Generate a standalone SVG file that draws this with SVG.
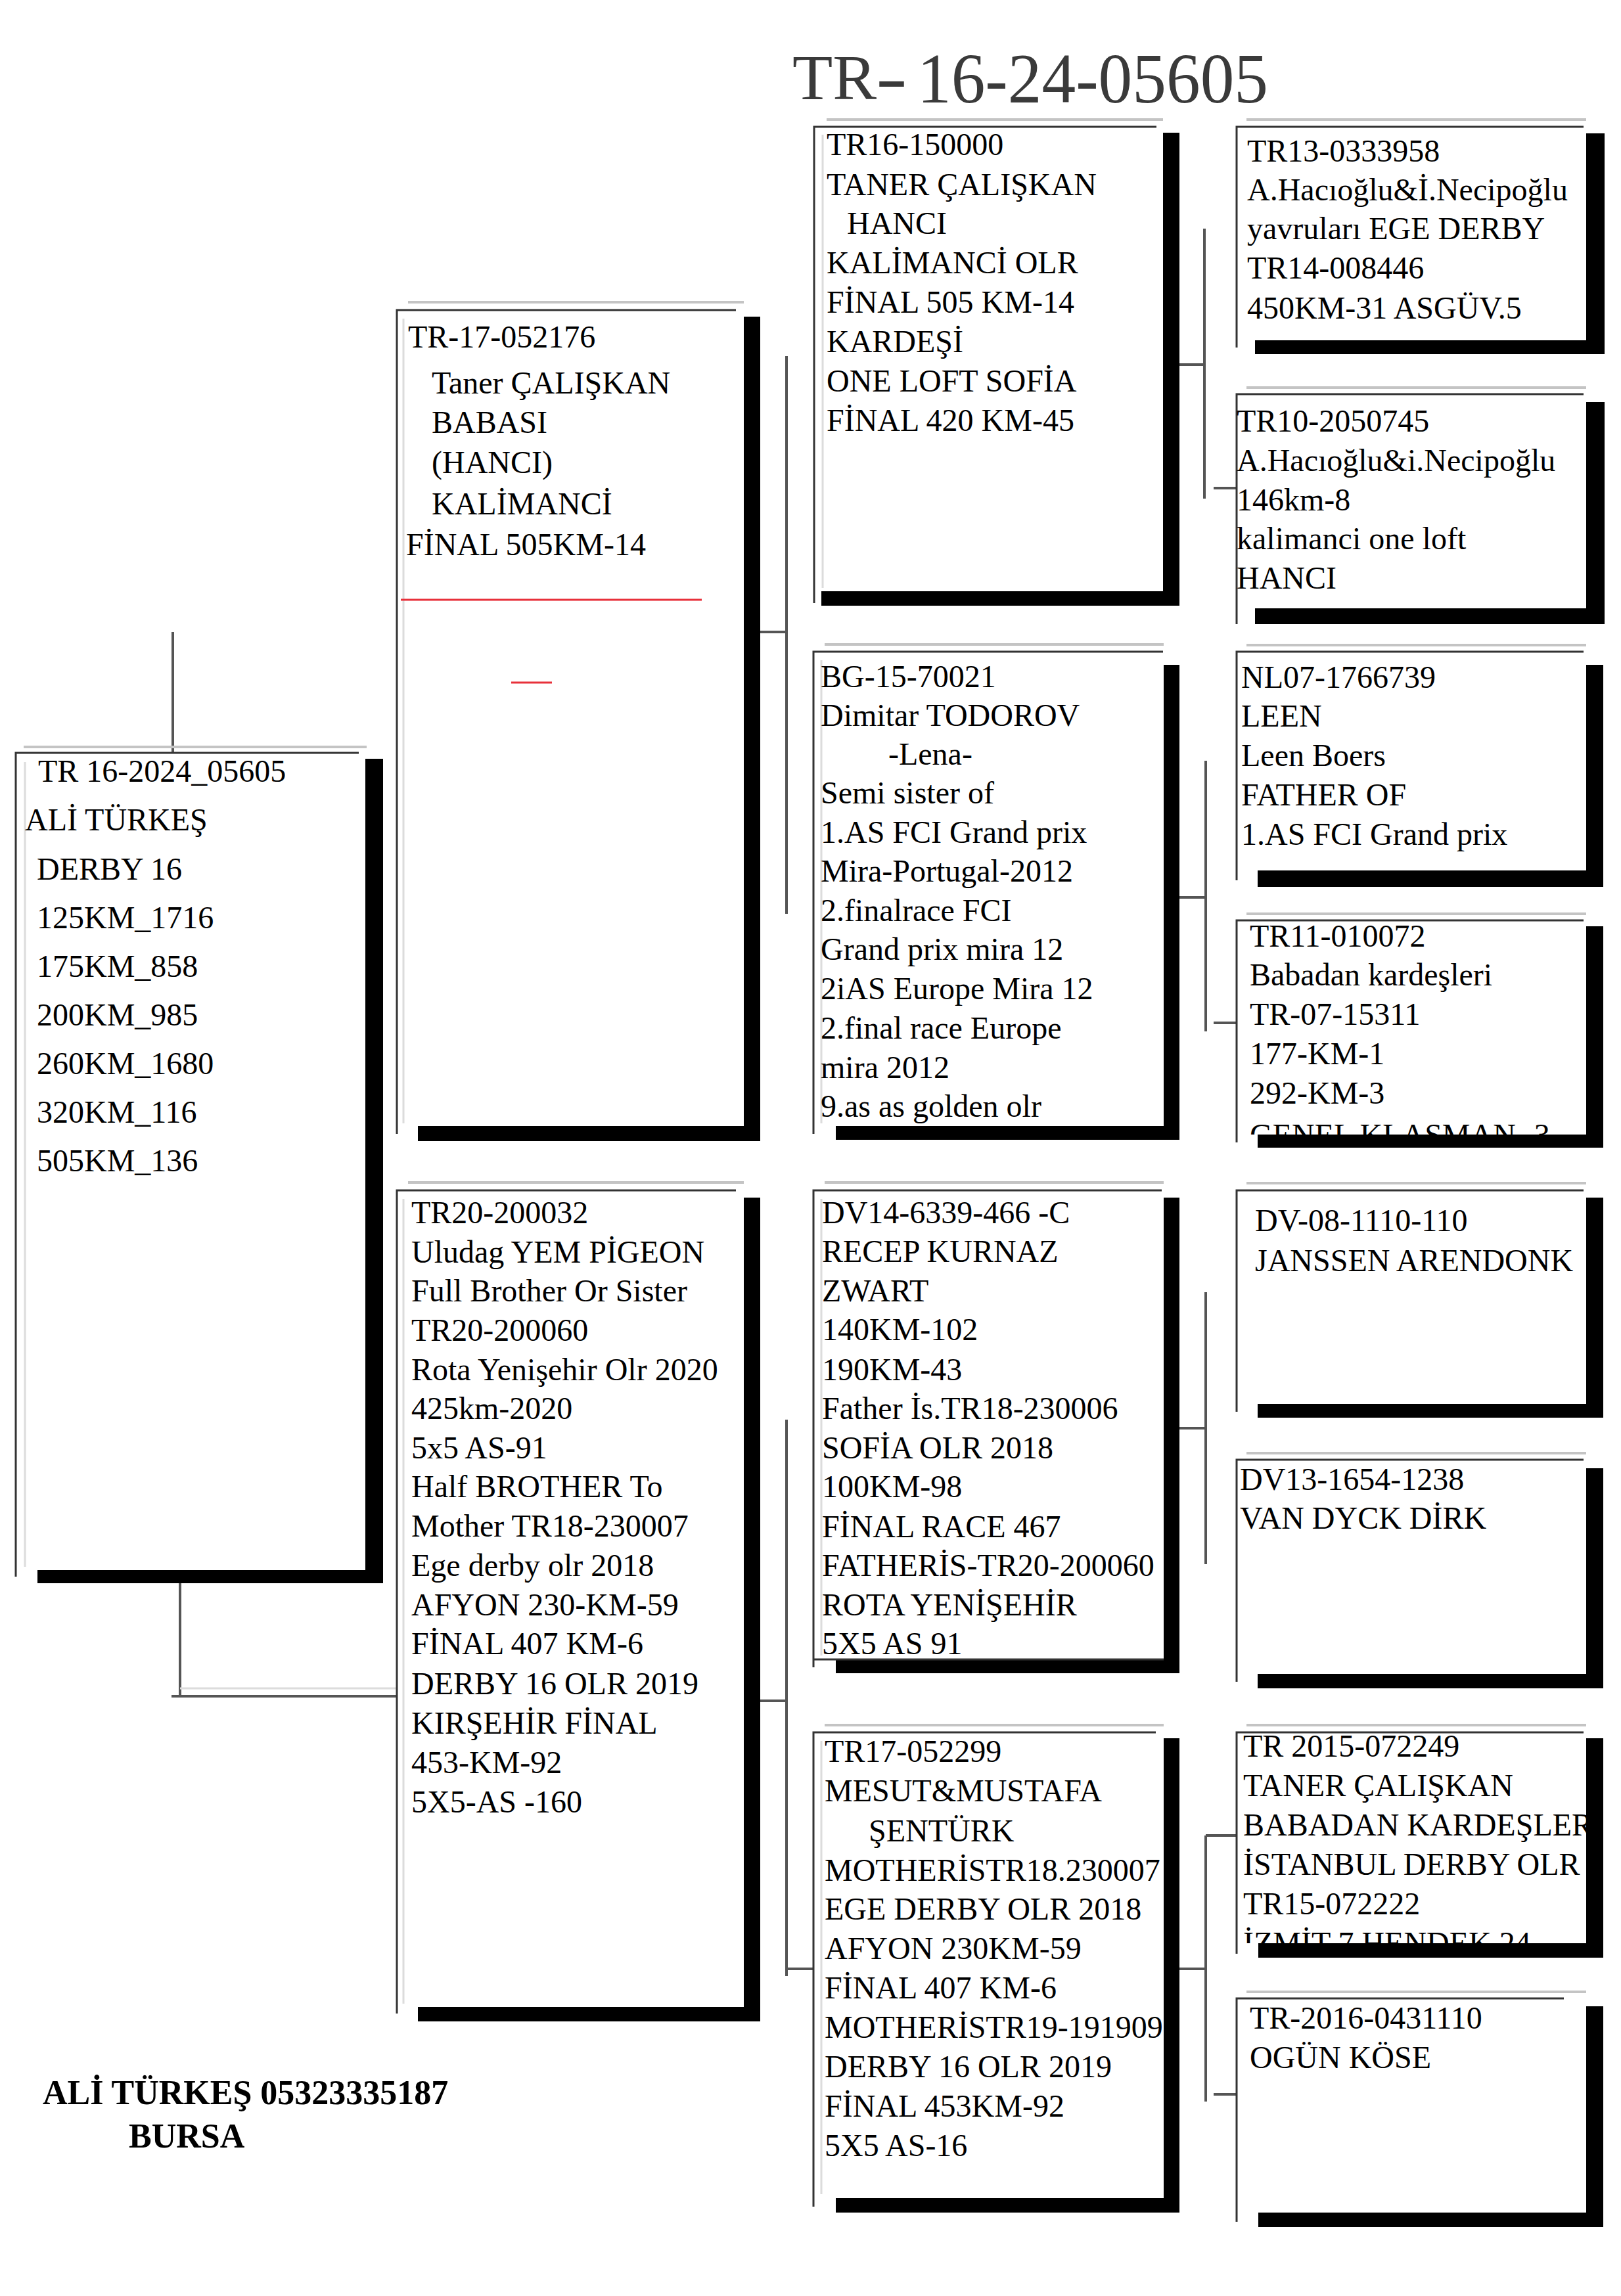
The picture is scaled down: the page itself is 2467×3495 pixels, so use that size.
<svg xmlns="http://www.w3.org/2000/svg" width="2467" height="3495" viewBox="0 0 2467 3495">
<style>
.sh{fill:#000}
.bg{fill:#fff}
.bd{stroke:#333;stroke-width:3;fill:none}
.lt{stroke:#c4c4c4;stroke-width:4;fill:none}
.li{stroke:#dcdcdc;stroke-width:3;fill:none}
.t{font-family:"Liberation Serif","Times New Roman",serif;font-size:48px;fill:#000}
.cn{stroke:#555;stroke-width:4;fill:none}
.red{stroke:#e8303a;stroke-width:3}
.foot{font-family:"Liberation Serif","Times New Roman",serif;font-size:52px;font-weight:bold;fill:#000}
</style>
<defs>
<clipPath id="clipC4"><rect x="1882" y="1401" width="540" height="326"/></clipPath>
<clipPath id="clipC7"><rect x="1882" y="2637" width="540" height="321"/></clipPath>
</defs>
<rect width="2467" height="3495" fill="#fff"/>

<g id="title">
<text x="1206" y="151" font-family="'Liberation Serif','Times New Roman',serif" font-size="98" fill="#3a3a3a" textLength="128" lengthAdjust="spacingAndGlyphs">TR</text>
<text x="1333" y="151" font-family="'Liberation Serif','Times New Roman',serif" font-size="98" font-weight="bold" fill="#3a3a3a" textLength="48" lengthAdjust="spacingAndGlyphs">-</text>
<text x="1396" y="156" font-family="'Liberation Serif','Times New Roman',serif" font-size="108" fill="#3a3a3a" textLength="534" lengthAdjust="spacingAndGlyphs">16-24-05605</text>
</g>

<g id="connectors">
<path class="cn" d="M263,962 V1146"/>
<path class="cn" d="M274,2410 V2582 M261,2582 H604"/>
<path class="li" d="M274,2570 H604"/>
<path class="cn" d="M1144,962 H1197 M1197,542 V1391"/>
<path class="cn" d="M1144,2589 H1197 M1197,2161 V3008 M1197,2997 H1238"/>
<path class="cn" d="M1785,555 H1833 M1833,348 V759 M1847,743 H1884"/>
<path class="cn" d="M1784,1366 H1835 M1835,1158 V1570 M1847,1557 H1894"/>
<path class="cn" d="M1784,2174 H1835 M1835,1967 V2381"/>
<path class="cn" d="M1784,2997 H1835 M1835,2794 V3199 M1835,2794 H1881 M1847,3188 H1894"/>
</g>

<g id="node-root">
<rect class="sh" x="57" y="1155" width="526" height="1255"/>
<rect class="bg" x="24" y="1146" width="532" height="1244"/>
<path class="lt" d="M36,1137 H558"/>
<path class="li" d="M38,1160 V2385"/>
<path class="bd" d="M24,2400 V1146 H546"/>
<text class="t" x="58" y="1190">TR 16-2024_05605</text>
<text class="t" x="38" y="1264">ALİ TÜRKEŞ</text>
<text class="t" x="56" y="1339">DERBY 16</text>
<text class="t" x="56" y="1413">125KM_1716</text>
<text class="t" x="56" y="1487">175KM_858</text>
<text class="t" x="56" y="1561">200KM_985</text>
<text class="t" x="56" y="1635">260KM_1680</text>
<text class="t" x="56" y="1709">320KM_116</text>
<text class="t" x="56" y="1783">505KM_136</text>
</g>

<g id="node-sire">
<rect class="sh" x="636" y="482" width="521" height="1255"/>
<rect class="bg" x="604" y="472" width="528" height="1242"/>
<path class="lt" d="M621,460 H1132"/>
<path class="li" d="M614,485 V1710"/>
<path class="bd" d="M604,1726 V472 H1120"/>
<text class="t" x="621" y="529">TR-17-052176</text>
<text class="t" x="657" y="599">Taner ÇALIŞKAN</text>
<text class="t" x="657" y="659">BABASI</text>
<text class="t" x="657" y="720">(HANCI)</text>
<text class="t" x="657" y="783">KALİMANCİ</text>
<text class="t" x="618" y="845">FİNAL 505KM-14</text>
<line class="red" x1="610" y1="913" x2="1068" y2="913"/>
<line class="red" x1="778" y1="1039" x2="840" y2="1039"/>
</g>

<g id="node-dam">
<rect class="sh" x="636" y="1823" width="521" height="1254"/>
<rect class="bg" x="604" y="1812" width="528" height="1243"/>
<path class="lt" d="M621,1800 H1132"/>
<path class="li" d="M614,1825 V3050"/>
<path class="bd" d="M604,3065 V1812 H1120"/>
<text class="t" x="626" y="1862">TR20-200032</text>
<text class="t" x="626" y="1922">Uludag YEM PİGEON</text>
<text class="t" x="626" y="1981">Full Brother Or Sister</text>
<text class="t" x="626" y="2041">TR20-200060</text>
<text class="t" x="626" y="2101">Rota Yenişehir Olr 2020</text>
<text class="t" x="626" y="2160">425km-2020</text>
<text class="t" x="626" y="2220">5x5 AS-91</text>
<text class="t" x="626" y="2279">Half BROTHER To</text>
<text class="t" x="626" y="2339">Mother TR18-230007</text>
<text class="t" x="626" y="2399">Ege derby olr 2018</text>
<text class="t" x="626" y="2459">AFYON 230-KM-59</text>
<text class="t" x="626" y="2518">FİNAL 407 KM-6</text>
<text class="t" x="626" y="2579">DERBY 16 OLR 2019</text>
<text class="t" x="626" y="2639">KIRŞEHİR FİNAL</text>
<text class="t" x="626" y="2699">453-KM-92</text>
<text class="t" x="626" y="2759">5X5-AS -160</text>
</g>

<g id="node-ss">
<rect class="sh" x="1250" y="202" width="545" height="720"/>
<rect class="bg" x="1239" y="193" width="531" height="707"/>
<path class="lt" d="M1258,182 H1770"/>
<path class="li" d="M1252,205 V895"/>
<path class="bd" d="M1239,918 V193 H1760"/>
<text class="t" x="1258" y="236">TR16-150000</text>
<text class="t" x="1258" y="297">TANER ÇALIŞKAN</text>
<text class="t" x="1289" y="356">HANCI</text>
<text class="t" x="1258" y="416">KALİMANCİ OLR</text>
<text class="t" x="1258" y="476">FİNAL 505 KM-14</text>
<text class="t" x="1258" y="536">KARDEŞİ</text>
<text class="t" x="1258" y="596">ONE LOFT SOFİA</text>
<text class="t" x="1258" y="656">FİNAL 420 KM-45</text>
</g>

<g id="node-sd">
<rect class="sh" x="1272" y="1012" width="523" height="723"/>
<rect class="bg" x="1238" y="992" width="533" height="722"/>
<path class="lt" d="M1255,981 H1771"/>
<path class="li" d="M1250,1005 V1710"/>
<path class="bd" d="M1238,1726 V992 H1770"/>
<text class="t" x="1249" y="1046">BG-15-70021</text>
<text class="t" x="1249" y="1105">Dimitar TODOROV</text>
<text class="t" x="1352" y="1164">-Lena-</text>
<text class="t" x="1249" y="1223">Semi sister of</text>
<text class="t" x="1249" y="1283">1.AS FCI Grand prix</text>
<text class="t" x="1249" y="1342">Mira-Portugal-2012</text>
<text class="t" x="1249" y="1402">2.finalrace FCI</text>
<text class="t" x="1249" y="1461">Grand prix mira 12</text>
<text class="t" x="1249" y="1521">2iAS Europe Mira 12</text>
<text class="t" x="1249" y="1581">2.final race Europe</text>
<text class="t" x="1249" y="1641">mira 2012</text>
<text class="t" x="1249" y="1700">9.as as golden olr</text>
</g>

<g id="node-ds">
<rect class="sh" x="1272" y="1823" width="523" height="724"/>
<rect class="bg" x="1238" y="1812" width="533" height="714"/>
<path class="lt" d="M1255,1800 H1771"/>
<path class="li" d="M1250,1825 V2520"/>
<path class="bd" d="M1238,2538 V1812 H1768"/>
<text class="t" x="1251" y="1862">DV14-6339-466 -C</text>
<text class="t" x="1251" y="1921">RECEP KURNAZ</text>
<text class="t" x="1251" y="1981">ZWART</text>
<text class="t" x="1251" y="2040">140KM-102</text>
<text class="t" x="1251" y="2101">190KM-43</text>
<text class="t" x="1251" y="2160">Father İs.TR18-230006</text>
<text class="t" x="1251" y="2220">SOFİA OLR 2018</text>
<text class="t" x="1251" y="2279">100KM-98</text>
<text class="t" x="1251" y="2340">FİNAL RACE 467</text>
<text class="t" x="1251" y="2399">FATHERİS-TR20-200060</text>
<text class="t" x="1251" y="2459">ROTA YENİŞEHİR</text>
<text class="t" x="1251" y="2518">5X5 AS 91</text>
<path class="bd" d="M1238,2526 H1771"/>
</g>

<g id="node-dd">
<rect class="sh" x="1272" y="2646" width="523" height="722"/>
<rect class="bg" x="1238" y="2637" width="533" height="709"/>
<path class="lt" d="M1255,2626 H1771"/>
<path class="li" d="M1250,2650 V3340"/>
<path class="bd" d="M1238,3359 V2637 H1759"/>
<text class="t" x="1255" y="2682">TR17-052299</text>
<text class="t" x="1255" y="2742">MESUT&amp;MUSTAFA</text>
<text class="t" x="1322" y="2803">ŞENTÜRK</text>
<text class="t" x="1255" y="2863">MOTHERİSTR18.230007</text>
<text class="t" x="1255" y="2922">EGE DERBY OLR 2018</text>
<text class="t" x="1255" y="2982">AFYON 230KM-59</text>
<text class="t" x="1255" y="3042">FİNAL 407 KM-6</text>
<text class="t" x="1255" y="3102">MOTHERİSTR19-191909</text>
<text class="t" x="1255" y="3162">DERBY 16 OLR 2019</text>
<text class="t" x="1255" y="3222">FİNAL 453KM-92</text>
<text class="t" x="1255" y="3282">5X5 AS-16</text>
</g>

<g id="node-sss">
<rect class="sh" x="1910" y="203" width="532" height="336"/>
<rect class="bg" x="1882" y="193" width="532" height="325"/>
<path class="lt" d="M1897,182 H2414"/>
<path class="bd" d="M1882,529 V193 H2410"/>
<text class="t" x="1898" y="246">TR13-0333958</text>
<text class="t" x="1898" y="305">A.Hacıoğlu&amp;İ.Necipoğlu</text>
<text class="t" x="1898" y="364">yavruları EGE DERBY</text>
<text class="t" x="1898" y="424">TR14-008446</text>
<text class="t" x="1898" y="485">450KM-31 ASGÜV.5</text>
</g>

<g id="node-ssd">
<rect class="sh" x="1910" y="612" width="532" height="338"/>
<rect class="bg" x="1882" y="600" width="532" height="326"/>
<path class="lt" d="M1897,590 H2414"/>
<path class="bd" d="M1882,950 V600 H2410"/>
<text class="t" x="1882" y="657">TR10-2050745</text>
<text class="t" x="1882" y="717">A.Hacıoğlu&amp;i.Necipoğlu</text>
<text class="t" x="1882" y="777">146km-8</text>
<text class="t" x="1882" y="836">kalimanci one loft</text>
<text class="t" x="1882" y="896">HANCI</text>
</g>

<g id="node-sds">
<rect class="sh" x="1914" y="1012" width="526" height="338"/>
<rect class="bg" x="1882" y="992" width="532" height="333"/>
<path class="lt" d="M1897,982 H2414"/>
<path class="bd" d="M1882,1340 V992 H2410"/>
<text class="t" x="1889" y="1047">NL07-1766739</text>
<text class="t" x="1889" y="1106">LEEN</text>
<text class="t" x="1889" y="1166">Leen Boers</text>
<text class="t" x="1889" y="1226">FATHER OF</text>
<text class="t" x="1889" y="1286">1.AS FCI Grand prix</text>
</g>

<g id="node-sdd">
<g clip-path="url(#clipC4)">
<rect class="bg" x="1882" y="1401" width="532" height="326"/>
<text class="t" x="1902" y="1441">TR11-010072</text>
<text class="t" x="1902" y="1500">Babadan kardeşleri</text>
<text class="t" x="1902" y="1560">TR-07-15311</text>
<text class="t" x="1902" y="1620">177-KM-1</text>
<text class="t" x="1902" y="1680">292-KM-3</text>
<text class="t" x="1902" y="1744">GENEL KLASMAN -3</text>
</g>
<path class="sh" d="M2414,1410 H2440 V1747 H1914 V1727 H2414 Z"/>
<path class="lt" d="M1897,1391 H2414"/>
<path class="bd" d="M1882,1739 V1401 H2410"/>
</g>

<g id="node-dss">
<rect class="sh" x="1914" y="1823" width="526" height="335"/>
<rect class="bg" x="1882" y="1812" width="532" height="325"/>
<path class="lt" d="M1897,1801 H2414"/>
<path class="bd" d="M1882,2149 V1812 H2410"/>
<text class="t" x="1910" y="1874">DV-08-1110-110</text>
<text class="t" x="1910" y="1935">JANSSEN ARENDONK</text>
</g>

<g id="node-dsd">
<rect class="sh" x="1914" y="2235" width="526" height="335"/>
<rect class="bg" x="1882" y="2222" width="532" height="326"/>
<path class="lt" d="M1897,2212 H2414"/>
<path class="bd" d="M1882,2560 V2222 H2410"/>
<text class="t" x="1887" y="2268">DV13-1654-1238</text>
<text class="t" x="1887" y="2327">VAN DYCK DİRK</text>
</g>

<g id="node-dds">
<g clip-path="url(#clipC7)">
<rect class="bg" x="1882" y="2637" width="532" height="321"/>
<text class="t" x="1892" y="2674">TR 2015-072249</text>
<text class="t" x="1892" y="2734">TANER ÇALIŞKAN</text>
<text class="t" x="1892" y="2794">BABADAN KARDEŞLER</text>
<text class="t" x="1892" y="2854">İSTANBUL DERBY OLR</text>
<text class="t" x="1892" y="2914">TR15-072222</text>
<text class="t" x="1892" y="2974">İZMİT 7 HENDEK 24</text>
</g>
<path class="sh" d="M2414,2646 H2440 V2980 H1915 V2958 H2414 Z"/>
<path class="lt" d="M1897,2626 H2414"/>
<path class="bd" d="M1882,2974 V2637 H2410"/>
</g>

<g id="node-ddd">
<rect class="sh" x="1915" y="3054" width="525" height="336"/>
<rect class="bg" x="1882" y="3042" width="532" height="326"/>
<path class="lt" d="M1897,3032 H2414"/>
<path class="bd" d="M1882,3382 V3042 H2380"/>
<text class="t" x="1902" y="3088">TR-2016-0431110</text>
<text class="t" x="1902" y="3148">OGÜN KÖSE</text>
</g>

<g id="footer">
<text class="foot" x="65" y="3203">ALİ TÜRKEŞ 05323335187</text>
<text class="foot" x="196" y="3269">BURSA</text>
</g>
</svg>
